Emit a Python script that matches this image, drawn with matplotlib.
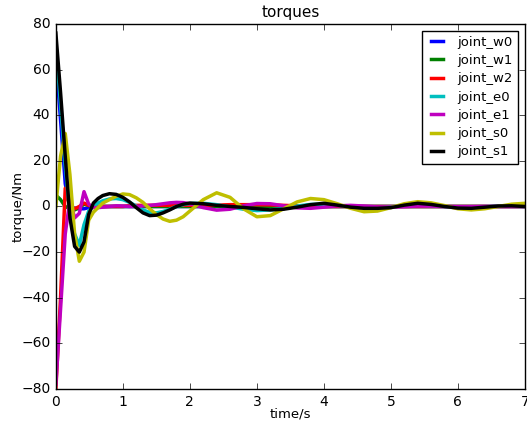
import matplotlib
matplotlib.use('Agg')
import matplotlib.pyplot as plt

# sample times (s)
time_s = [0, 0.07, 0.14, 0.21, 0.28, 0.35, 0.42, 0.49, 0.56, 0.63, 0.7,
          0.8, 0.9, 1.0, 1.1, 1.2, 1.3, 1.4, 1.5, 1.6, 1.7, 1.8, 1.9, 2.0,
          2.2, 2.4, 2.6, 2.8, 3.0, 3.2, 3.4, 3.6, 3.8, 4.0, 4.2, 4.4, 4.6, 4.8,
          5.0, 5.2, 5.4, 5.6, 5.8, 6.0, 6.2, 6.4, 6.6, 6.8, 7.0]

joint_w0 = [65, 38, 10, -0.5, -0.7, -1, -1, -0.5, 0, 0, 0,
            0, 0, 0, 0, 0, 0, 0, 0, 0, 0, 0, 0, 0,
            0, 0, 0, 0, 0, 0, 0, 0, 0, 0, 0, 0, 0, 0,
            0, 0, 0, 0, 0, 0, 0, 0, 0, 0, 0]

joint_w1 = [5, 3, 0, -1, -1.5, -0.5, 1, 0.5, 0, 0, 0,
            0, 0, 0, 0, 0, 0, 0, 0, 0, 0, 0, 0, 0,
            0, 0, 0, 0, 0, 0, 0, 0, 0, 0, 0, 0, 0, 0,
            0, 0, 0, 0, 0, 0, 0, 0, 0, 0, 0]

joint_w2 = [-80, -40, 8, 0, -1, 0, 1.5, 0.5, 0, 0, 0,
            0, 0, 0, 0.3, 0.5, 0.5, 0.5, 0.5, 0.5, 0.5, 0.5, 0.5, 0.5,
            0.5, 0.6, 0.8, 0.8, 0.8, 0.7, 0.5, 0.3, 0.2, 0, 0, 0, 0, 0,
            0, 0, 0, 0, 0, 0, 0, 0, 0, 0, 0]

joint_e0 = [70, 45, 18, -4, -12, -17, -8, -2, 0, 1.5, 2.5,
            3.3, 3.5, 3, 1.8, 0.2, -1.5, -2.6, -2.8, -2.2, -1.2, 0, 0.8, 1.3,
            1.4, 0.8, -0.2, -1.2, -1.8, -1.5, -0.8, 0.2, 0.9, 1, 0.5, -0.1, -0.5, -0.5,
            -0.2, 0.3, 0.5, 0.3, 0, -0.3, -0.3, -0.1, 0.1, 0.1, 0]

joint_e1 = [-78, -45, -12, 3, -5, -3, 6.5, 1, -0.5, -0.5, -0.3,
            0, 0.3, 0.2, 0, 0, 0.3, 0.5, 0.8, 1.2, 1.6, 1.8, 1.7, 1.2,
            -0.5, -1.6, -1.2, 0.3, 1.3, 1.2, 0.3, -0.6, -0.8, -0.3, 0.3, 0.5, 0.2, -0.2,
            -0.3, -0.1, 0.2, 0.2, 0, -0.1, -0.1, 0, 0, 0, 0]

joint_s0 = [0, 22, 32, 14, -12, -24, -20, -6, -2.5, -0.5, 1.5,
            3, 4.5, 5.5, 5.2, 3.8, 1.8, -1, -3.5, -5.5, -6.5, -6, -4.5, -2,
            3, 6, 4, -1, -4.5, -4, -1, 2, 3.5, 3, 1.2, -0.8, -2.3, -2,
            -0.5, 1.2, 2.1, 1.6, 0.4, -1, -1.5, -1, 0, 1, 1.4]

joint_s1 = [76, 50, 22, -5, -17.5, -20, -15.5, -3.5, 1.5, 3.5, 4.8,
            5.6, 5.3, 4, 2, -0.5, -2.8, -4, -3.8, -2.8, -1.5, 0, 1, 1.5,
            1.2, 0.5, 0, -0.4, -1, -1.5, -1.2, -0.3, 0.8, 1.4, 0.6, -0.3, -0.8, -0.8,
            -0.5, 0.6, 1.4, 0.9, 0, -0.7, -0.8, -0.3, 0.2, 0.3, 0]

series = [('joint_w0', joint_w0, 'b'),
          ('joint_w1', joint_w1, 'g'),
          ('joint_w2', joint_w2, 'r'),
          ('joint_e0', joint_e0, 'c'),
          ('joint_e1', joint_e1, 'm'),
          ('joint_s0', joint_s0, 'y'),
          ('joint_s1', joint_s1, 'k')]

plt.style.use('classic')
plt.rcParams['font.family'] = ['DejaVu Sans']

fig = plt.figure(figsize=(5.27, 4.24), dpi=100, facecolor='white')
ax = fig.add_axes([0.106, 0.0825, 0.89, 0.861])
for name, values, color in series:
    ax.plot(time_s, values, color=color, linewidth=2.5, label=name)

ax.set_xlim(0, 7)
ax.set_ylim(-80, 80)
ax.set_title('torques', fontsize=11)
ax.set_xlabel('time/s', fontsize=9.5, labelpad=-0.5)
ax.set_ylabel('torque/Nm', fontsize=9.5, labelpad=-2.5)
ax.tick_params(labelsize=10)
ax.legend(loc='upper right', fontsize=9.5, handlelength=1.5, labelspacing=0.4,
          borderaxespad=0.5)

plt.savefig('out.png', dpi=100, facecolor='white')
plt.close()
